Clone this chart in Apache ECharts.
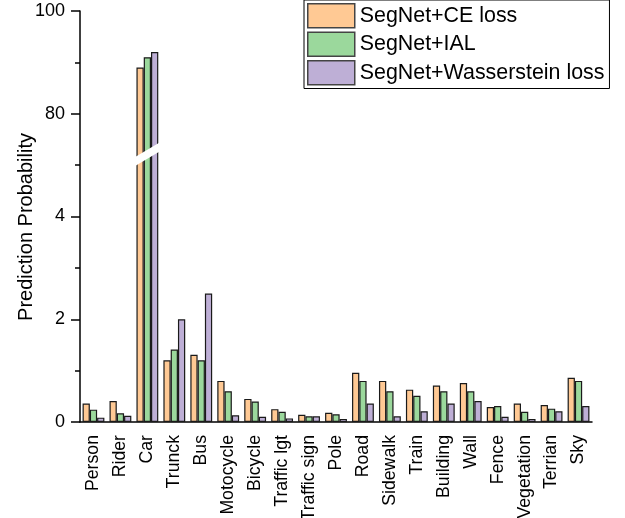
<!DOCTYPE html>
<html>
<head>
<meta charset="utf-8">
<script src="https://cdn.jsdelivr.net/npm/echarts@6/dist/echarts.min.js"></script>
<style>
  html, body { margin: 0; padding: 0; background: #fff; }
  #chart { width: 625px; height: 518px; }
</style>
</head>
<body>
<div id="chart"></div>
<script>
const categories = ['Person', 'Rider', 'Car', 'Trunck', 'Bus', 'Motocycle', 'Bicycle', 'Traffic lgt', 'Traffic sign', 'Pole',
  'Road', 'Sidewalk', 'Train', 'Building', 'Wall', 'Fence', 'Vegetation', 'Terrian', 'Sky']
const ceLoss = [0.36, 0.41, 89, 1.2, 1.31, 0.80, 0.45, 0.25, 0.14, 0.18, 0.96, 0.80, 0.63, 0.71, 0.76, 0.29, 0.36, 0.33, 0.86]
const ial = [0.24, 0.17, 91, 1.41, 1.2, 0.60, 0.40, 0.20, 0.11, 0.15, 0.80, 0.60, 0.51, 0.60, 0.60, 0.31, 0.20, 0.26, 0.80]
const wasserstein = [0.085, 0.12, 92, 2.0, 2.5, 0.13, 0.10, 0.07, 0.11, 0.06, 0.36, 0.11, 0.21, 0.36, 0.41, 0.10, 0.06, 0.21, 0.31]
const seriesNames = ['SegNet+CE loss', 'SegNet+IAL', 'SegNet+Wasserstein loss']
const colors = ['#FFC994', '#9BD89C', '#BEAFD6']
const tickLabels = ['0', '2', '4', '80', '100']

// broken y axis: 0..5 keeps its scale, 70..100 is squeezed 10x above it
const BREAK_LOW = 5
const BREAK_HIGH = 70
const toAxis = v => v <= BREAK_LOW ? v : BREAK_LOW + (v - BREAK_HIGH) / 10

const font = 'Liberation Sans, Arial, Helvetica, sans-serif'
const chart = echarts.init(document.getElementById('chart'))

const bars = [ceLoss, ial, wasserstein].map((vals, i) => ({
  name: seriesNames[i],
  type: 'bar',
  barGap: '0%',
  barCategoryGap: '19%',
  data: vals.map(toAxis),
  itemStyle: { color: colors[i], borderColor: '#1a1a1a', borderWidth: 1.2 },
  animation: false
}))

chart.setOption({
  animation: false,
  grid: { left: 80, right: 33, top: 11, bottom: 96, outerBoundsMode: 'none' },
  legend: {
    data: seriesNames,
    orient: 'vertical',
    left: 304,
    top: 0,
    itemWidth: 47,
    itemHeight: 24,
    itemGap: 3,
    padding: [3, 5, 3, 3],
    borderColor: '#000',
    borderWidth: 1,
    icon: 'rect',
    itemStyle: { borderColor: '#444', borderWidth: 1.5 },
    textStyle: { fontSize: 21.4, color: '#000', fontFamily: font }
  },
  xAxis: [{
    type: 'category',
    data: categories,
    position: 'bottom',
    axisLine: { lineStyle: { color: '#000', width: 1.5 } },
    axisTick: { alignWithLabel: true, length: 8, lineStyle: { color: '#000', width: 1.5 } },
    axisLabel: { rotate: 90, margin: 13, fontSize: 17.7, color: '#000', fontFamily: font, interval: 0 }
  }, {
    type: 'category',
    data: categories,
    position: 'bottom',
    axisLine: { show: false },
    axisTick: { length: 5, lineStyle: { color: '#000', width: 1.5 } },
    axisLabel: { show: false }
  }],
  yAxis: {
    type: 'value',
    min: 0,
    max: 8,
    interval: 2,
    splitLine: { show: false },
    axisLine: { show: true, lineStyle: { color: '#000', width: 1.5 } },
    axisTick: { show: true, length: 9, lineStyle: { color: '#000', width: 1.5 } },
    minorTick: { show: true, splitNumber: 2, length: 5, lineStyle: { color: '#000', width: 1.5 } },
    axisLabel: {
      margin: 15, fontSize: 18, color: '#000', fontFamily: font,
      formatter: v => tickLabels[Math.round(v / 2)]
    }
  },
  series: bars
})

// white slanted band marking the axis break across the Car bars
const c = chart.convertToPixel({ xAxisIndex: 0 }, 'Car')
const cy = chart.convertToPixel({ yAxisIndex: 0 }, 5.21)
const half = 13.5
chart.setOption({
  graphic: [{
    type: 'polygon',
    z: 100,
    shape: {
      points: [
        [c - half, cy + 3.5],
        [c + half, cy - 12.5],
        [c + half, cy - 3.5],
        [c - half, cy + 12.5]
      ]
    },
    style: { fill: '#fff' }
  }, {
    type: 'text',
    x: 26,
    y: 227,
    rotation: Math.PI / 2,
    style: {
      text: 'Prediction Probability',
      fontSize: 20,
      fontFamily: font,
      fill: '#000',
      align: 'center',
      verticalAlign: 'middle'
    }
  }]
})
</script>
</body>
</html>
